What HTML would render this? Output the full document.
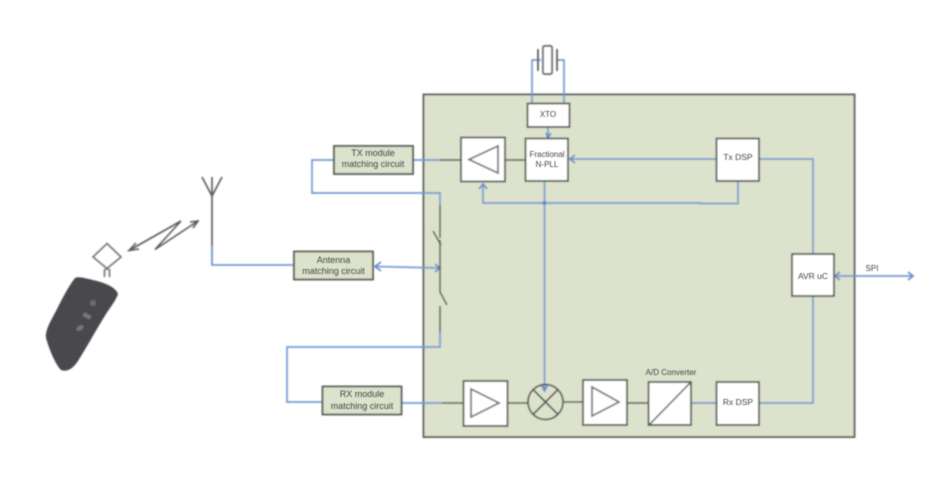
<!DOCTYPE html>
<html>
<head>
<meta charset="utf-8">
<style>
html,body{margin:0;padding:0;background:#fff;width:927px;height:489px;overflow:hidden}
svg{display:block}
text{font-family:"Liberation Sans",sans-serif;fill:#444;text-anchor:middle}
</style>
</head>
<body>
<svg width="927" height="489" viewBox="0 0 927 489">
<defs>
<filter id="b" x="-5%" y="-5%" width="110%" height="110%"><feGaussianBlur stdDeviation="0.8"/></filter>
<filter id="t" x="-10%" y="-30%" width="120%" height="160%"><feGaussianBlur stdDeviation="0.65"/></filter>
</defs>
<g filter="url(#b)">
<rect x="423.5" y="94.5" width="431" height="342.5" fill="#dce2cb" stroke="#4f5450" stroke-width="1.8"/>

<!-- blue wires -->
<g fill="none" stroke="#7199d2" stroke-width="1.7">
<path d="M212 246V265H294"/>
<path d="M333 160H312V193H440V205"/>
<path d="M413 160H441"/>
<path d="M376 266.500L440 268"/>
<path d="M440 332V347H287V402H322"/>
<path d="M401 403H442"/>
<path d="M532 103V60H541"/>
<path d="M564 103V60H556"/>
<path d="M548 127V138"/>
<path d="M716 159H570"/>
<path d="M483 184V203H701L701 203.500H738V181"/>
<path d="M544.500 181V390"/>
<path d="M759 159H813V254"/>
<path d="M813 296V403H759"/>
<path d="M691 403H716"/>
<path d="M835 276H913"/>
</g>
<!-- arrowheads -->
<g fill="none" stroke="#6189c8" stroke-width="1.700">
<path d="M546 133L548 138L551 133"/>
<path d="M575 155L570 159L575 163"/>
<path d="M479 189L483 184L487 189"/>
<path d="M541 384L544.500 391L548 384"/>
<path d="M381 262L375 266.500L381 271"/>
<path d="M435 264L440 268L435 272"/>
<path d="M840 272L835 276L840 280"/>
<path d="M908 272L913 276L908 280"/>
<circle cx="544.500" cy="203" r="1.200"/>
</g>

<!-- dark wires -->
<g fill="none" stroke="#4f5343" stroke-width="1.500">
<path d="M440 160H461"/>
<path d="M505 160H526"/>
<path d="M442 403H463"/>
<path d="M508 403H529"/>
<path d="M563 402H583"/>
<path d="M627 403H648"/>
<path d="M440 205V238"/>
<path d="M433 231L441 245"/>
<path d="M440 240V292L447 305"/>
<path d="M440 306V332"/>
</g>

<!-- green blocks -->
<g fill="#dce2cb" stroke="#4f5450" stroke-width="1.800">
<rect x="334" y="146" width="79" height="28"/>
<rect x="294" y="251.500" width="79" height="28"/>
<rect x="322.500" y="386.500" width="79" height="28"/>
</g>

<!-- white blocks -->
<g fill="#fff" stroke="#4f5450" stroke-width="1.800">
<rect x="527.500" y="103.500" width="42" height="23.500"/>
<rect x="525.500" y="138.500" width="42.500" height="42.500"/>
<rect x="461" y="137.500" width="44" height="44"/>
<rect x="463.500" y="381" width="44" height="45"/>
<rect x="583" y="380" width="44" height="45"/>
<rect x="648.500" y="382" width="42.500" height="43"/>
<rect x="716.500" y="382" width="42.500" height="43"/>
<rect x="716.500" y="138.500" width="42.500" height="42.500"/>
<rect x="792" y="254" width="42" height="42"/>
</g>

<!-- amp triangles -->
<g fill="none" stroke="#666a68" stroke-width="1.700">
<path d="M498 146V173L469 159.500Z"/>
<path d="M471 389V417L499 403Z"/>
<path d="M592 387V416L619 402Z"/>
</g>
<!-- mixer -->
<g fill="none" stroke="#4f5450" stroke-width="1.700">
<circle cx="545.500" cy="402" r="17.500"/>
<path d="M533.500 390L557.500 414M557.500 390L533.500 414"/>
</g>
<path d="M649 425L691 382" stroke="#4f5450" stroke-width="1.600" fill="none"/>

<!-- crystal -->
<g fill="none" stroke="#555957" stroke-width="1.700">
<rect x="543" y="46" width="9" height="28" rx="1.500" fill="#fff"/>
<path d="M538 49V71M557 49V71"/>
</g>

<!-- antenna -->
<g fill="none" stroke="#5d5f5f" stroke-width="1.700">
<path d="M212 246V196"/>
<path d="M202 177L212 196L222 177"/>
<path d="M212 177V196"/>
</g>
<path d="M212 246V265" fill="none" stroke="#7199d2" stroke-width="1.700"/>

<!-- wireless bolt -->
<g fill="none" stroke="#5a5a5a" stroke-width="1.600">
<path d="M129 250.500L181 221L155 249.500L198 221"/>
<path d="M136 243L129 250.500L139 249"/>
<path d="M190 222L198 221L193 228"/>
</g>

<!-- fob antenna -->
<g fill="none" stroke="#777" stroke-width="1.700">
<path d="M107 243.500L121 257L107 268.500L93 257Z"/>
<path d="M104.500 277V270L107 268.500L109.500 270V277"/>
</g>

<!-- fob body -->
<path d="M75 278C78 276 85 278 97 281C108 284 116 288 118 294C116 300 112 305 106 314C96 330 88 345 78 361C72 370 66 372 61 370C56 365 50 352 46 338C45 331 50 322 56 311C62 299 68 287 75 278Z" fill="#4a4a4d"/>
<circle cx="93" cy="303" r="3" fill="#6d6d6d"/>
<rect x="83" y="314" width="8" height="4" rx="1" transform="rotate(25 87 316)" fill="#777"/>
<ellipse cx="80" cy="328" rx="4" ry="2.500" transform="rotate(-35 80 328)" fill="#747474"/>
</g>

<!-- labels -->
<g filter="url(#t)">
<text x="373" y="156" font-size="9" fill="#333">TX module</text>
<text x="373" y="167" font-size="9" fill="#333">matching circuit</text>
<text x="333.500" y="263" font-size="9" fill="#333">Antenna</text>
<text x="333.500" y="274" font-size="9" fill="#333">matching circuit</text>
<text x="362" y="397" font-size="9" fill="#333">RX module</text>
<text x="362" y="409" font-size="9" fill="#333">matching circuit</text>
<text x="548" y="117" font-size="8">XTO</text>
<text x="547" y="157" font-size="8">Fractional</text>
<text x="547" y="167" font-size="8">N-PLL</text>
<text x="738" y="160" font-size="8.500">Tx DSP</text>
<text x="738" y="405" font-size="8.500">Rx DSP</text>
<text x="813" y="279" font-size="8.500">AVR uC</text>
<text x="671" y="375" font-size="8">A/D Converter</text>
<text x="872" y="271" font-size="8">SPI</text>
</g>
</svg>
</body>
</html>
